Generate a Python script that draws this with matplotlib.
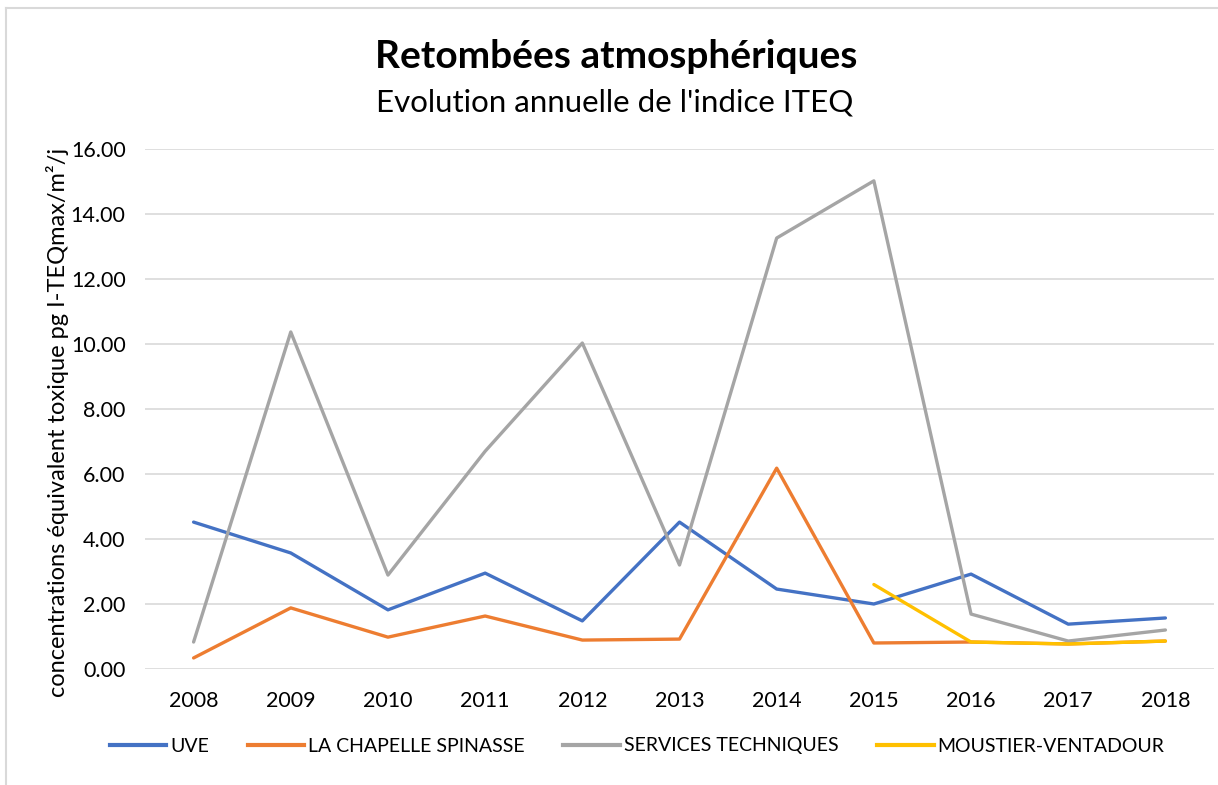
import matplotlib

matplotlib.use("Agg")
import matplotlib.pyplot as plt
from matplotlib.lines import Line2D

plt.rcParams["font.family"] = ["Lato", "DejaVu Sans"]

years = ["2008", "2009", "2010", "2011", "2012", "2013", "2014", "2015", "2016", "2017", "2018"]
uve = [4.52, 3.57, 1.82, 2.95, 1.48, 4.52, 2.46, 2.00, 2.92, 1.38, 1.57]
chapelle = [0.34, 1.88, 0.98, 1.63, 0.89, 0.92, 6.18, 0.80, 0.83, 0.77, 0.86]
services = [0.83, 10.37, 2.89, 6.70, 10.03, 3.20, 13.26, 15.02, 1.69, 0.86, 1.20]
moustier_years = ["2015", "2016", "2017", "2018"]
moustier = [2.60, 0.83, 0.77, 0.86]

series = [
    ("UVE", years, uve, "#4472C4"),
    ("LA CHAPELLE SPINASSE", years, chapelle, "#ED7D31"),
    ("SERVICES TECHNIQUES", years, services, "#A5A5A5"),
    ("MOUSTIER-VENTADOUR", moustier_years, moustier, "#FFC000"),
]

fig = plt.figure(figsize=(12.18, 7.85), dpi=100)
ax = fig.add_axes([145 / 1218, 1 - 669 / 785, (1214 - 145) / 1218, (669 - 149) / 785])

pos = {y: i for i, y in enumerate(years)}
for label, xs, ys, color in series:
    ax.plot([pos[x] for x in xs], ys, color=color, linewidth=2.4, solid_capstyle="round", label=label)

ax.set_xlim(-0.5, len(years) - 0.5)
ax.set_ylim(0, 16)
ax.set_yticks(range(0, 17, 2))
ax.set_yticklabels([f"{v:.2f}" for v in range(0, 17, 2)])
ax.set_xticks(range(len(years)))
ax.set_xticklabels(years)
ax.tick_params(length=0, labelsize=15.5, colors="#000000")
ax.tick_params(axis="y", pad=14)
ax.tick_params(axis="x", pad=16)
ax.grid(axis="y", color="#D9D9D9", linewidth=1.2)
ax.set_axisbelow(True)
for side in ("top", "right", "left", "bottom"):
    ax.spines[side].set_visible(False)

ax.set_ylabel("concentrations équivalent toxique pg I-TEQmax/m²/j", fontsize=17)
ax.yaxis.set_label_coords(-0.071, 0.475)

fig.text(0.506, 1 - 57 / 785, "Retombées atmosphériques", ha="center", va="center",
         fontsize=28, fontweight="bold")
fig.text(0.505, 1 - 103 / 785, "Evolution annuelle de l'indice ITEQ", ha="center", va="center",
         fontsize=22.5)

handles = [Line2D([], [], color=c, linewidth=3) for _, _, _, c in series]
labels = [s[0] for s in series]
fig.legend(handles, labels, loc="center", bbox_to_anchor=(0.523, 1 - 746 / 785), ncol=4,
           frameon=False, handlelength=2.9, handletextpad=0.2, columnspacing=2.0,
           prop={"size": 14})

# outer chart frame (only left and top edges visible in the crop)
fig.add_artist(Line2D([6 / 1218, 6 / 1218], [0, 1 - 8 / 785], color="#D9D9D9", linewidth=1.5,
                      transform=fig.transFigure))
fig.add_artist(Line2D([6 / 1218, 1], [1 - 8 / 785, 1 - 8 / 785], color="#D9D9D9", linewidth=1.5,
                      transform=fig.transFigure))

fig.savefig("out.png", dpi=100)
